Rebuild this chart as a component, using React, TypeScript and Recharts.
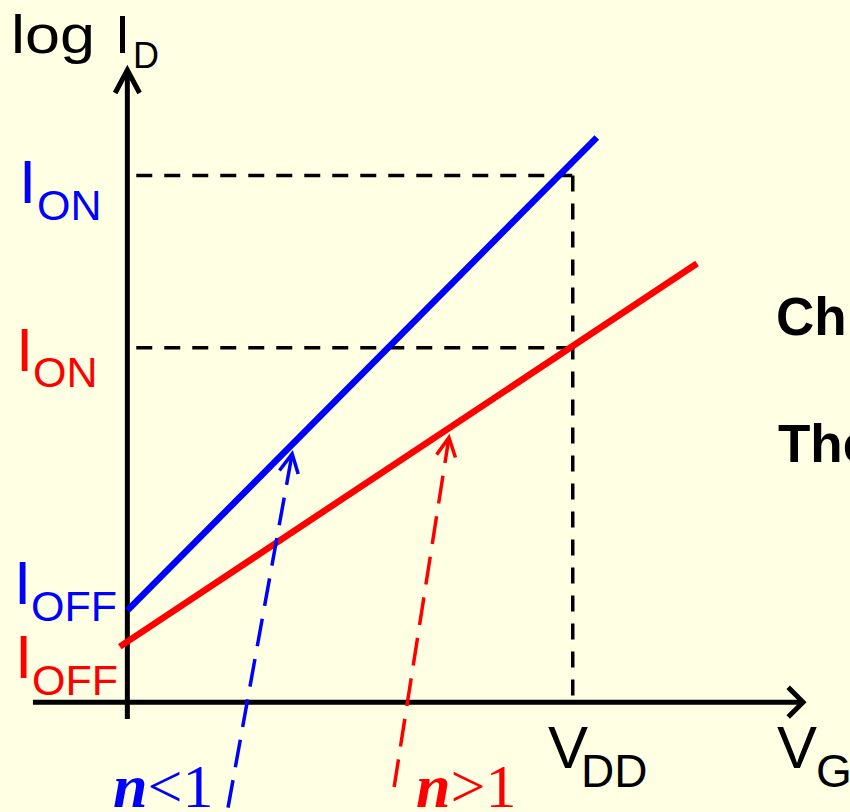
import React from 'react';
import { LineChart, Line, XAxis, YAxis, ReferenceLine } from 'recharts';

// gate voltage (V, V_DD = 1) against log drain current (decades above the axis)
const VDD = 1.0;
const blueCurve = [
  { vg: 0, logId: 1.47 },
  { vg: 1.054, logId: 9.05 },
];
const redCurve = [
  { vg: -0.017, logId: 0.89 },
  { vg: 1.279, logId: 7.03 },
];
const ionLevels = [8.44, 5.68];
const xAxisSpan = [-0.212, 1.517];
const yAxisSpan = [-0.268, 10.13];
// dashed pointers from the n labels up to each curve: [start, tip]
const bluePointer = [
  { x: 0.226, y: -1.69 },
  { x: 0.37, y: 3.98 },
];
const redPointer = [
  { x: 0.599, y: -1.36 },
  { x: 0.722, y: 4.24 },
];

const BG = '#FFFFE3';
const BLUE = '#0000FF';
const RED = '#FF0000';
const SANS = '"Liberation Sans", Arial, sans-serif';
const SERIF = '"Liberation Serif", "Times New Roman", serif';

const chevron = (x1: number, y1: number, x2: number, y2: number, len: number, deg: number) => {
  const a = Math.atan2(y1 - y2, x1 - x2);
  const h = (deg * Math.PI) / 180;
  const p1 = [x2 + len * Math.cos(a + h), y2 + len * Math.sin(a + h)];
  const p2 = [x2 + len * Math.cos(a - h), y2 + len * Math.sin(a - h)];
  return `M${p1[0]},${p1[1]} L${x2},${y2} L${p2[0]},${p2[1]}`;
};

const axisArrow = (len: number, deg: number) => (props: any) => {
  const { x1, y1, x2, y2 } = props;
  return (
    <g>
      <line x1={x1} y1={y1} x2={x2} y2={y2} stroke="#000" strokeWidth={5} />
      <path d={chevron(x1, y1, x2, y2, len, deg)} fill="none" stroke="#000" strokeWidth={5} strokeLinejoin="miter" />
    </g>
  );
};

const dashedArrow = (color: string) => (props: any) => {
  const { x1, y1, x2, y2 } = props;
  return (
    <g>
      <line x1={x1} y1={y1} x2={x2} y2={y2} stroke={color} strokeWidth={3.5} strokeDasharray="28 13" />
      <path d={chevron(x1, y1, x2, y2, 21, 27)} fill="none" stroke={color} strokeWidth={3.5} />
    </g>
  );
};

const Labels = () => (
  <svg width={850} height={812} style={{ position: 'absolute', left: 0, top: 0, pointerEvents: 'none' }}>
    <g fontFamily={SANS}>
      <text x={11} y={53} fontSize={54} textLength={84} lengthAdjust="spacingAndGlyphs">log</text>
      <text x={115} y={53} fontSize={54}>I</text>
      <text x={133} y={68} fontSize={36}>D</text>

      <text x={19} y={203} fontSize={62} fill={BLUE}>I</text>
      <text x={37} y={220} fontSize={43} fill={BLUE}>ON</text>
      <text x={16} y={371} fontSize={62} fill={RED}>I</text>
      <text x={33} y={387} fontSize={43} fill={RED}>ON</text>
      <text x={14} y={604} fontSize={62} fill={BLUE}>I</text>
      <text x={31} y={621} fontSize={43} fill={BLUE}>OFF</text>
      <text x={15} y={678} fontSize={62} fill={RED}>I</text>
      <text x={32} y={695} fontSize={43} fill={RED}>OFF</text>

      <text x={548} y={768} fontSize={60}>V</text>
      <text x={581} y={787} fontSize={46}>DD</text>
      <text x={777} y={768} fontSize={60}>V</text>
      <text x={816} y={787} fontSize={46}>G</text>

      <text x={776} y={335} fontSize={53} fontWeight="bold">Ch</text>
      <text x={778} y={462} fontSize={53} fontWeight="bold">The</text>
    </g>
    <g fontFamily={SERIF} fontSize={62}>
      <text x={113} y={807} fill={BLUE}>
        <tspan fontWeight="bold" fontStyle="italic">n</tspan>
        <tspan>&lt;1</tspan>
      </text>
      <text x={416} y={807} fill={RED}>
        <tspan fontWeight="bold" fontStyle="italic">n</tspan>
        <tspan>&gt;1</tspan>
      </text>
    </g>
  </svg>
);

export default function App() {
  return (
    <div style={{ position: 'absolute', left: 0, top: 0, width: 850, height: 812, background: BG, overflow: 'hidden' }}>
      <LineChart width={850} height={812} margin={{ top: 47, right: 10, bottom: 0, left: 16 }}>
        <XAxis type="number" dataKey="vg" domain={[-0.25, 1.6]} allowDataOverflow hide />
        <YAxis type="number" dataKey="logId" domain={[-1.76, 10.5]} allowDataOverflow hide />

        {ionLevels.map((lvl) => (
          <ReferenceLine
            key={lvl}
            segment={[{ x: 0.02, y: lvl }, { x: VDD, y: lvl }]}
            stroke="#000"
            strokeWidth={3.5}
            strokeDasharray="16 12"
            ifOverflow="visible"
          />
        ))}
        <ReferenceLine
          segment={[{ x: VDD, y: ionLevels[0] }, { x: VDD, y: 0 }]}
          stroke="#000"
          strokeWidth={3.5}
          strokeDasharray="16 12"
          ifOverflow="visible"
        />

        <ReferenceLine
          segment={[{ x: xAxisSpan[0], y: 0 }, { x: xAxisSpan[1], y: 0 }]}
          shape={axisArrow(21, 45)}
          ifOverflow="visible"
        />
        <ReferenceLine
          segment={[{ x: 0, y: yAxisSpan[0] }, { x: 0, y: yAxisSpan[1] }]}
          shape={axisArrow(26, 28)}
          ifOverflow="visible"
        />

        <Line data={blueCurve} dataKey="logId" stroke={BLUE} strokeWidth={6.5} dot={false} isAnimationActive={false} />
        <Line data={redCurve} dataKey="logId" stroke={RED} strokeWidth={6.5} dot={false} isAnimationActive={false} />

        <ReferenceLine segment={bluePointer} shape={dashedArrow(BLUE)} ifOverflow="visible" />
        <ReferenceLine segment={redPointer} shape={dashedArrow(RED)} ifOverflow="visible" />
      </LineChart>
      <Labels />
    </div>
  );
}
